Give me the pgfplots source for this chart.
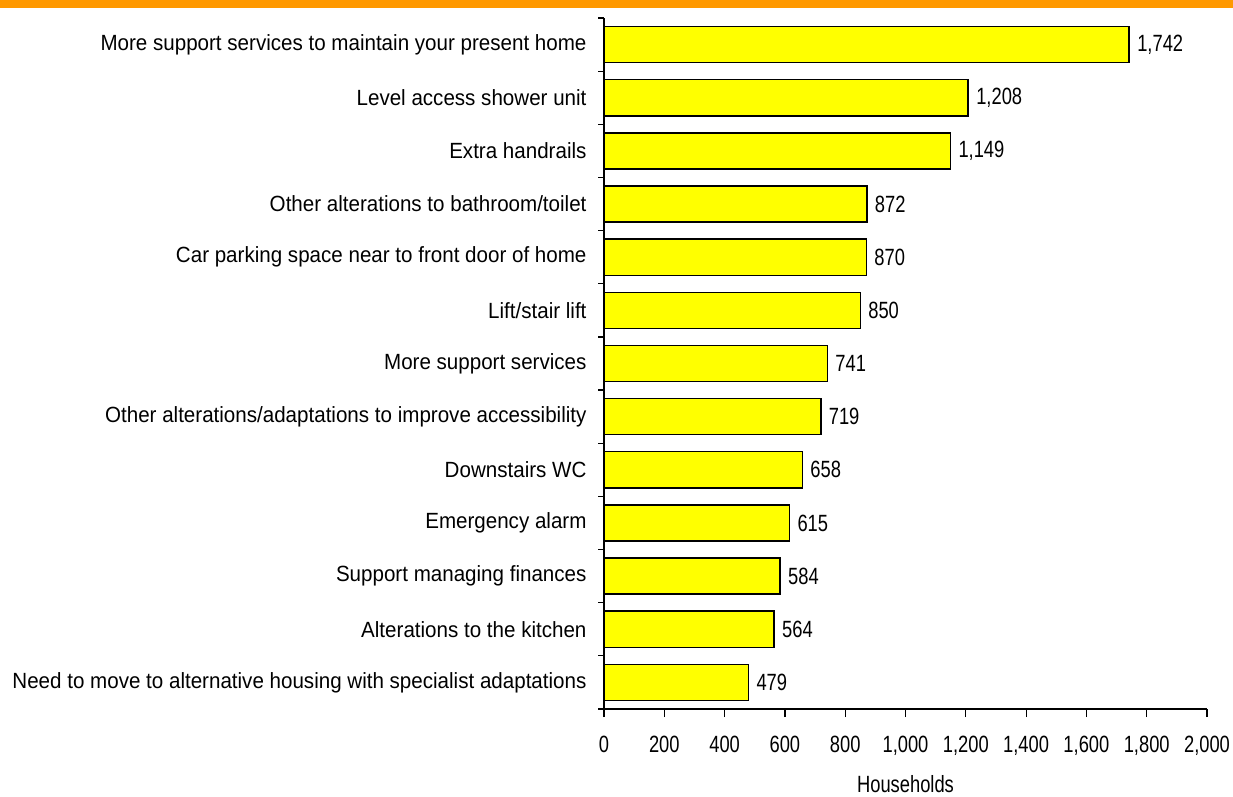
\documentclass[border=0pt]{standalone}
\usepackage{fontspec}
\setmainfont{Liberation Sans}[FakeStretch=0.935]
\newfontfamily\numfont{Liberation Sans}[FakeStretch=0.78]
\usepackage{pgfplots}
\pgfplotsset{compat=1.18}
\definecolor{topband}{HTML}{FF9900}
\definecolor{baryellow}{HTML}{FFFF00}
\begin{document}
\fontsize{22}{26}\selectfont
\begin{tikzpicture}
\useasboundingbox (0pt,0pt) rectangle (1233pt,796pt);
\fill[topband] (0pt,788pt) rectangle (1233pt,796pt);
\begin{axis}[
  at={(604pt,87pt)}, anchor=south west,
  scale only axis, width=603pt, height=691pt,
  xmin=0, xmax=2000, ymin=-0.5, ymax=12.5,
  axis x line*=bottom, axis y line*=left,
  axis line style={line width=1.5pt},
  xtick={0,200,...,2000},
  tick align=outside,
  major tick length=8pt,
  minor tick length=6pt,
  every major x tick/.style={black, line width=1.2pt},
  ytick={0,...,12},
  yticklabels={Need to move to alternative housing with specialist adaptations,Alterations to the kitchen,Support managing finances,Emergency alarm,Downstairs WC,Other alterations/adaptations to improve accessibility,More support services,Lift/stair lift,Car parking space near to front door of home,Other alterations to bathroom/toilet,Extra handrails,Level access shower unit,More support services to maintain your present home},
  every major y tick/.style={draw=none},
  minor ytick={-0.5,0.5,...,12.5},
  every minor y tick/.style={draw=black, line width=1.2pt},
  yticklabel style={font=\fontsize{22}{26}\selectfont, xshift=-2pt},
  /pgf/number format/assume math mode=true,
  /pgf/number format/1000 sep={,},
  xticklabel style={font=\numfont\fontsize{23.5}{28}\selectfont, anchor=base, yshift=-35pt},
  xlabel={Households},
  xlabel style={font=\numfont\fontsize{23.5}{28}\selectfont, at={(axis description cs:0.5,0)}, anchor=base, yshift=-83pt},
  xbar, bar width=0.68,
  point meta=x,
  nodes near coords,
  nodes near coords style={font=\numfont\fontsize{23.5}{28}\selectfont, anchor=west, /pgf/number format/1000 sep={,}},
  clip=false,
]
\addplot[fill=baryellow, draw=black, line width=1.5pt] coordinates {
(479,0) (564,1) (584,2) (615,3) (658,4) (719,5) (741,6) (850,7) (870,8) (872,9) (1149,10) (1208,11) (1742,12)
};
\end{axis}
\end{tikzpicture}
\end{document}
